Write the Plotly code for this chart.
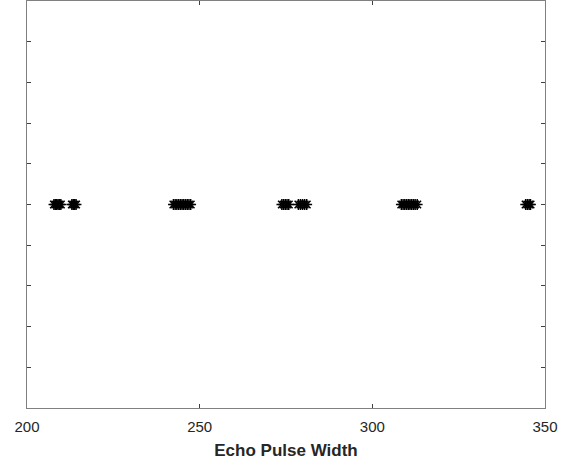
import plotly.graph_objects as go

# Echo pulse widths (all plotted at y = 0)
pulse_widths = [
    207.8, 208.2, 208.6, 209.0, 209.4, 209.8,
    213.0, 213.4, 213.8, 214.2,
    242.4, 242.9, 243.4, 243.9, 244.4, 244.9, 245.4, 245.9, 246.4, 246.9, 247.4,
    273.8, 274.3, 274.8, 275.3, 275.8,
    278.6, 279.2, 279.8, 280.4, 281.0,
    308.4, 308.9, 309.4, 309.9, 310.4, 310.9, 311.4, 311.9, 312.4, 313.0,
    344.4, 344.9, 345.4, 345.8,
]
y_values = [0] * len(pulse_widths)
x_ticks = [200, 250, 300, 350]

fig = go.Figure()
fig.add_trace(go.Scatter(
    x=pulse_widths, y=y_values, mode="markers",
    marker=dict(symbol="asterisk-open", size=9, color="black",
                line=dict(color="black", width=1.5)),
    showlegend=False,
))

axis_common = dict(
    showline=True, linecolor="#808080", linewidth=1, mirror="ticks",
    ticks="inside", ticklen=4, tickcolor="#404040", showgrid=False, zeroline=False,
)
fig.update_layout(
    width=579, height=464,
    margin=dict(l=27, r=34, t=1, b=56, autoexpand=False),
    paper_bgcolor="white", plot_bgcolor="white",
    font=dict(family="Liberation Sans, Arial, sans-serif", size=15, color="#262626"),
    xaxis=dict(range=[200, 350], tickvals=x_ticks, ticklabelstandoff=5,
               title=dict(text="<b>Echo Pulse Width</b>", font=dict(size=17), standoff=10),
               **axis_common),
    yaxis=dict(range=[-1, 1], dtick=0.2, showticklabels=False, **axis_common),
)
fig.write_html("out.html", config={"displayModeBar": False},
               post_script="document.body.style.margin='0';")
